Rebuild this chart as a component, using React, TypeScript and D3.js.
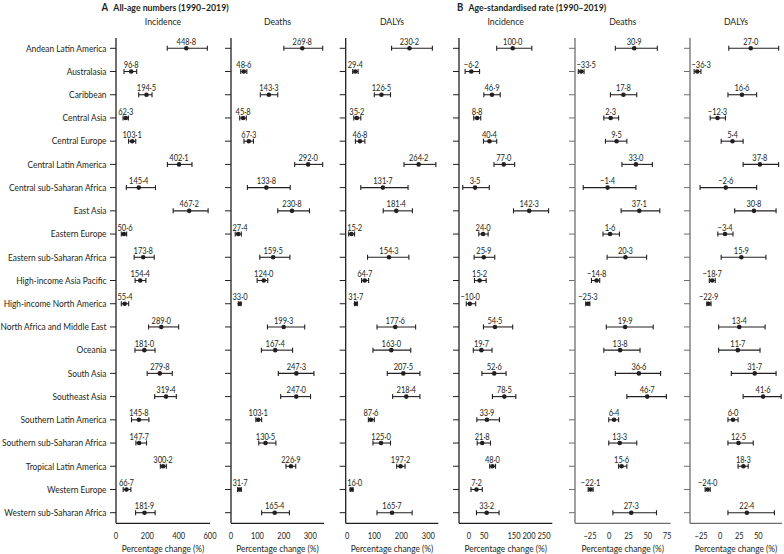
import React, { useRef, useEffect } from 'react';
import * as d3 from 'd3';

// regions, top to bottom
const regions = [
  'Andean Latin America', 'Australasia', 'Caribbean', 'Central Asia', 'Central Europe',
  'Central Latin America', 'Central sub-Saharan Africa', 'East Asia', 'Eastern Europe',
  'Eastern sub-Saharan Africa', 'High-income Asia Pacific', 'High-income North America',
  'North Africa and Middle East', 'Oceania', 'South Asia', 'Southeast Asia',
  'Southern Latin America', 'Southern sub-Saharan Africa', 'Tropical Latin America',
  'Western Europe', 'Western sub-Saharan Africa',
];

// A: all-age numbers, percentage change 1990-2019
const incA = [448.8, 96.8, 194.5, 62.3, 103.1, 402.1, 145.4, 467.2, 50.6, 173.8, 154.4, 55.4, 289.0, 181.0, 279.8, 319.4, 145.8, 147.7, 300.2, 66.7, 181.9];
const incALo = [327, 51, 145, 45, 80, 328, 66, 365, 34, 116, 122, 34, 208, 121, 199, 247, 99, 127, 283, 46, 125];
const incAHi = [583, 132, 230, 79, 126, 485, 252, 588, 68, 244, 191, 81, 400, 249, 359, 385, 210, 195, 321, 95, 250];

const deathsA = [269.8, 48.6, 143.3, 45.8, 67.3, 292.0, 133.8, 230.8, 27.4, 159.5, 124.0, 33.0, 199.3, 167.4, 247.3, 247.0, 103.1, 130.5, 226.9, 31.7, 165.4];
const deathsALo = [200, 37, 111, 33, 49, 241, 62, 177, 16, 109, 99, 28, 138, 115, 179, 188, 94, 105, 208, 25, 116];
const deathsAHi = [347, 60, 177, 58, 85, 347, 224, 297, 39, 223, 139, 38, 279, 233, 314, 301, 116, 170, 245, 39, 221];

const dalysA = [230.2, 29.4, 126.5, 35.2, 46.8, 264.2, 131.7, 181.4, 15.2, 154.3, 64.7, 31.7, 177.6, 163.0, 207.5, 218.4, 87.6, 125.0, 197.2, 16.0, 165.7];
const dalysALo = [164, 20, 100, 24, 30, 210, 50, 133, 5, 75, 53, 27, 110, 95, 148, 168, 78, 95, 183, 11, 110];
const dalysAHi = [315, 40, 160, 50, 65, 328, 225, 241, 27, 228, 79, 37, 253, 235, 269, 269, 100, 160, 214, 21, 240];

// B: age-standardised rate, percentage change 1990-2019
const incB = [100.0, -6.2, 46.9, 8.8, 40.4, 77.0, 3.5, 142.3, 24.0, 25.9, 15.2, -10.0, 54.5, 19.7, 52.6, 78.5, 33.9, 21.8, 48.0, 7.2, 33.2];
const incBLo = [59, -22, 26, 0, 25, 52, -28, 102, 13, 1, 2, -19, 25, -1, 21, 48, 8, 9, 41, -7, 7];
const incBHi = [149, 15, 68, 18, 59, 105, 40, 192, 37, 54, 32, 5, 100, 47, 83, 108, 66, 43, 56, 22, 65];

const deathsB = [30.9, -33.5, 17.8, 2.3, 9.5, 33.0, -1.4, 37.1, 1.6, 20.3, -14.8, -25.3, 19.9, 13.8, 36.6, 46.7, 6.4, 13.3, 15.6, -22.1, 27.3];
const deathsBLo = [8, -37, 2, -6, -4, 16, -31, 15, -7, -2, -21, -28, -3, -6, 8, 22, 0, 0, 12, -25, 5];
const deathsBHi = [59, -30, 34, 12, 22, 53, 33, 62, 13, 46, -11, -23, 54, 38, 63, 70, 12, 34, 22, -19, 58];

const dalysB = [27.0, -36.3, 16.6, -12.3, 5.4, 37.8, -2.6, 30.8, -3.4, 15.9, -18.7, -22.9, 13.4, 11.7, 31.7, 41.6, 6.0, 12.5, 18.3, -24.0, 22.4];
const dalysBLo = [1, -40, 0, -21, -8, 18, -33, 8, -12, -8, -22, -25, -11, -11, 4, 18, 0, 0, 12, -27, 0];
const dalysBHi = [60, -32, 34, -3, 18, 60, 34, 57, 6, 45, -15, -20, 44, 38, 57, 63, 12, 30, 24, -21, 55];

const fmt = (v) => d3.format('.1f')(v).replace('.', '·').replace('-', '–');

const panels = [
  { title: 'Incidence', val: incA, lo: incALo, hi: incAHi, range: [116, 210], domain: [0, 600], tickDomain: [0, 600], ticks: [0, 200, 400, 600], axis: '#231f20' },
  { title: 'Deaths', val: deathsA, lo: deathsALo, hi: deathsAHi, range: [231, 324], domain: [0, 352], tickDomain: [0, 352], ticks: [0, 100, 200, 300], axis: '#231f20' },
  { title: 'DALYs', val: dalysA, lo: dalysALo, hi: dalysAHi, range: [345.7, 438.3], domain: [-5.9, 337], tickDomain: [-5.9, 337], ticks: [0, 100, 200, 300], axis: '#231f20' },
  { title: 'Incidence', val: incB, lo: incBLo, hi: incBHi, range: [459, 552.3], domain: [-37.7, 201.5], tickDomain: [-33.3, 277.7], ticks: [0, 50, 150, 200, 250], axis: '#231f20' },
  { title: 'Deaths', val: deathsB, lo: deathsBLo, hi: deathsBHi, range: [575, 670.5], domain: [-41, 75], tickDomain: [-44.5, 79.5], ticks: [-25, 0, 25, 50, 75], axis: '#6d6e71' },
  { title: 'DALYs', val: dalysB, lo: dalysBLo, hi: dalysBHi, range: [690, 782], domain: [-44.9, 64], tickDomain: [-39.5, 81], ticks: [-25, 0, 25, 50], axis: '#6d6e71' },
];

const App = () => {
  const ref = useRef(null);

  useEffect(() => {
    const width = 784;
    const height = 554;
    const ink = '#231f20';
    const font = 'Lato, "Open Sans", sans-serif';
    const fs = 9.6;
    const top = 38;
    const bottom = 523.3;

    d3.select(ref.current).selectAll('*').remove();

    const svg = d3
      .select(ref.current)
      .append('svg')
      .attr('width', width)
      .attr('height', height)
      .style('display', 'block')
      .style('font-family', font)
      .style('fill', ink);

    // the original face is condensed: squeeze text horizontally so the longest name fits
    const probe = svg.append('text').attr('font-size', fs).text('North Africa and Middle East');
    const sx = Math.min(1, 106 / probe.node().getComputedTextLength());
    probe.remove();
    const sxNum = sx * 0.9; // its figures are narrower still

    const label = (parent, x, yy, str, size = fs, anchor = 'middle', k = sx) =>
      parent
        .append('text')
        .attr('transform', `translate(${x},${yy}) scale(${k},1)`)
        .attr('text-anchor', anchor)
        .attr('font-size', size)
        .text(str);

    const y = d3.scalePoint().domain(regions).range([48.3, 512.7]);

    // section headings
    const heads = [
      { letter: 'A', text: 'All-age numbers (1990–2019)', x: 101.5 },
      { letter: 'B', text: 'Age-standardised rate (1990–2019)', x: 457 },
    ];
    heads.forEach((h) => {
      const t = label(svg, h.x, 10.8, null, 11, 'start').attr('font-weight', 700);
      t.append('tspan').text(h.letter);
      t.append('tspan').attr('dx', 6).attr('font-size', 10).text(h.text);
    });

    // region names
    regions.forEach((r) => label(svg, 106.5, y(r) + 3.3, r, fs, 'end'));

    panels.forEach((p) => {
      const x = d3.scaleLinear().domain(p.domain).range(p.range);
      const xt = d3.scaleLinear().domain(p.tickDomain).range(p.range);
      const g = svg.append('g');
      const x0 = p.range[0];
      const x1 = p.range[1];
      const mid = (x0 + x1) / 2;

      label(g, mid, 24.5, p.title, 10);

      // y axis with left ticks, x baseline
      g.append('line').attr('x1', x0).attr('x2', x0).attr('y1', top).attr('y2', bottom).attr('stroke', p.axis).attr('stroke-width', 1.3);
      g.append('line').attr('x1', x0).attr('x2', x1).attr('y1', bottom).attr('y2', bottom).attr('stroke', p.axis).attr('stroke-width', 1.3);
      g.selectAll('.ytick')
        .data(regions)
        .join('line')
        .attr('x1', x0 - 6)
        .attr('x2', x0)
        .attr('y1', (d) => y(d))
        .attr('y2', (d) => y(d))
        .attr('stroke', p.axis)
        .attr('stroke-width', 1);

      // x tick labels
      p.ticks.forEach((t) => label(g, xt(t), 538.8, t < 0 ? '–' + Math.abs(t) : String(t), fs, 'middle', sxNum));

      label(g, mid, 552, 'Percentage change (%)');

      const rows = regions.map((r, i) => ({ r, v: p.val[i], lo: p.lo[i], hi: p.hi[i] }));

      const bars = g.selectAll('.bar').data(rows).join('g');
      bars.append('line')
        .attr('x1', (d) => x(d.lo)).attr('x2', (d) => x(d.hi))
        .attr('y1', (d) => y(d.r)).attr('y2', (d) => y(d.r))
        .attr('stroke', ink).attr('stroke-width', 1.1);
      bars.append('line')
        .attr('x1', (d) => x(d.lo)).attr('x2', (d) => x(d.lo))
        .attr('y1', (d) => y(d.r) - 2.5).attr('y2', (d) => y(d.r) + 2.5)
        .attr('stroke', ink).attr('stroke-width', 1.1);
      bars.append('line')
        .attr('x1', (d) => x(d.hi)).attr('x2', (d) => x(d.hi))
        .attr('y1', (d) => y(d.r) - 2.5).attr('y2', (d) => y(d.r) + 2.5)
        .attr('stroke', ink).attr('stroke-width', 1.1);
      bars.append('circle')
        .attr('cx', (d) => x(d.v)).attr('cy', (d) => y(d.r)).attr('r', 2.3).attr('fill', ink);

      // value labels, nudged right when they would cross the axis
      rows.forEach((d) => {
        const t = label(g, x(d.v), y(d.r) - 3.4, fmt(d.v), fs, 'middle', sxNum);
        const w = t.node().getComputedTextLength() * sxNum;
        if (x(d.v) - w / 2 < x0 + 1.5) {
          t.attr('transform', `translate(${x0 + 1.5 + w / 2},${y(d.r) - 3.4}) scale(${sxNum},1)`);
        }
      });
    });
  }, []);

  return <div ref={ref} style={{ position: 'absolute', left: 0, top: 0 }}></div>;
};

export default App;
